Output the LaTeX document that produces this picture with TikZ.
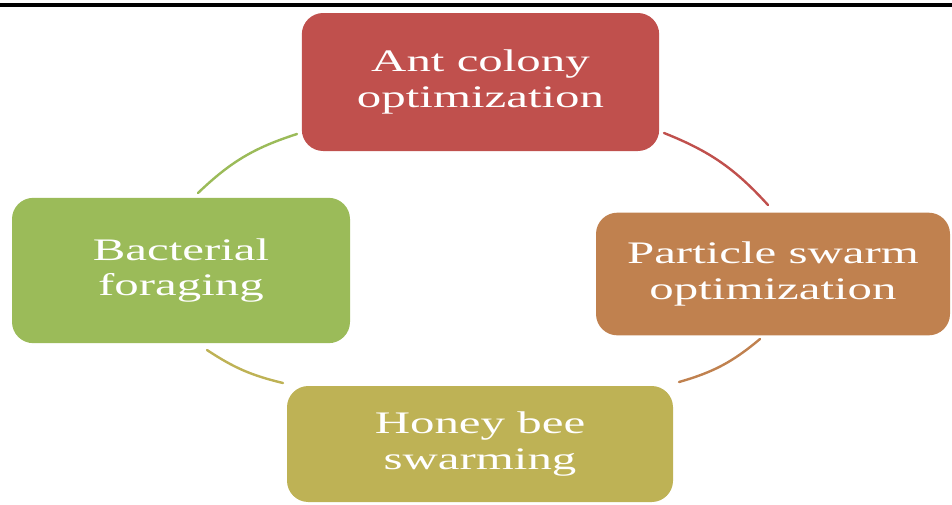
\documentclass[tikz,border=0pt]{standalone}
\usepackage{fontspec}
\setmainfont[FakeStretch=1.56]{Liberation Serif}
\definecolor{antred}{HTML}{C0504D}
\definecolor{psobrown}{HTML}{C0814F}
\definecolor{beeolive}{HTML}{BEB255}
\definecolor{bfogreen}{HTML}{9BBB59}
\begin{document}
\begin{tikzpicture}[x=0.75pt, y=-0.75pt,
  algo/.style={rounded corners=16pt, text=white, align=center, inner sep=0pt,
    font=\fontsize{23.5}{26.5}\selectfont},
  ring/.style={line width=1.8pt, line cap=round}]
  \useasboundingbox (0,0) rectangle (952,504);

  % rule at the top
  \fill[black] (0,3) rectangle (952,7);

  % the four algorithms
  \node[algo, fill=antred, minimum width=268pt, minimum height=103.5pt]
    (ant) at (480.5,82) {Ant colony\\optimization};
  \node[algo, fill=psobrown, minimum width=265.5pt, minimum height=92pt]
    (pso) at (773,274) {Particle swarm\\optimization};
  \node[algo, fill=beeolive, minimum width=289.5pt, minimum height=87pt]
    (bee) at (480,444) {Honey bee\\swarming};
  \node[algo, fill=bfogreen, minimum width=253.5pt, minimum height=109pt]
    (bfo) at (181,270.5) {Bacterial\\foraging};

  % ends of the cycle arcs
  \coordinate (antout) at (664,133);
  \coordinate (psoin)  at (768,205);
  \coordinate (psoout) at (760,339);
  \coordinate (beein)  at (679,382);
  \coordinate (beeout) at (283,383);
  \coordinate (bfoin)  at (207,350);
  \coordinate (bfoout) at (198,193);
  \coordinate (antin)  at (297,134);

  % cycle
  \draw[ring, antred]   (antout) to[bend left=13] (psoin);
  \draw[ring, psobrown] (psoout) to[bend left=12] (beein);
  \draw[ring, beeolive] (beeout) to[bend left=10] (bfoin);
  \draw[ring, bfogreen] (bfoout) to[bend left=13] (antin);
\end{tikzpicture}
\end{document}
